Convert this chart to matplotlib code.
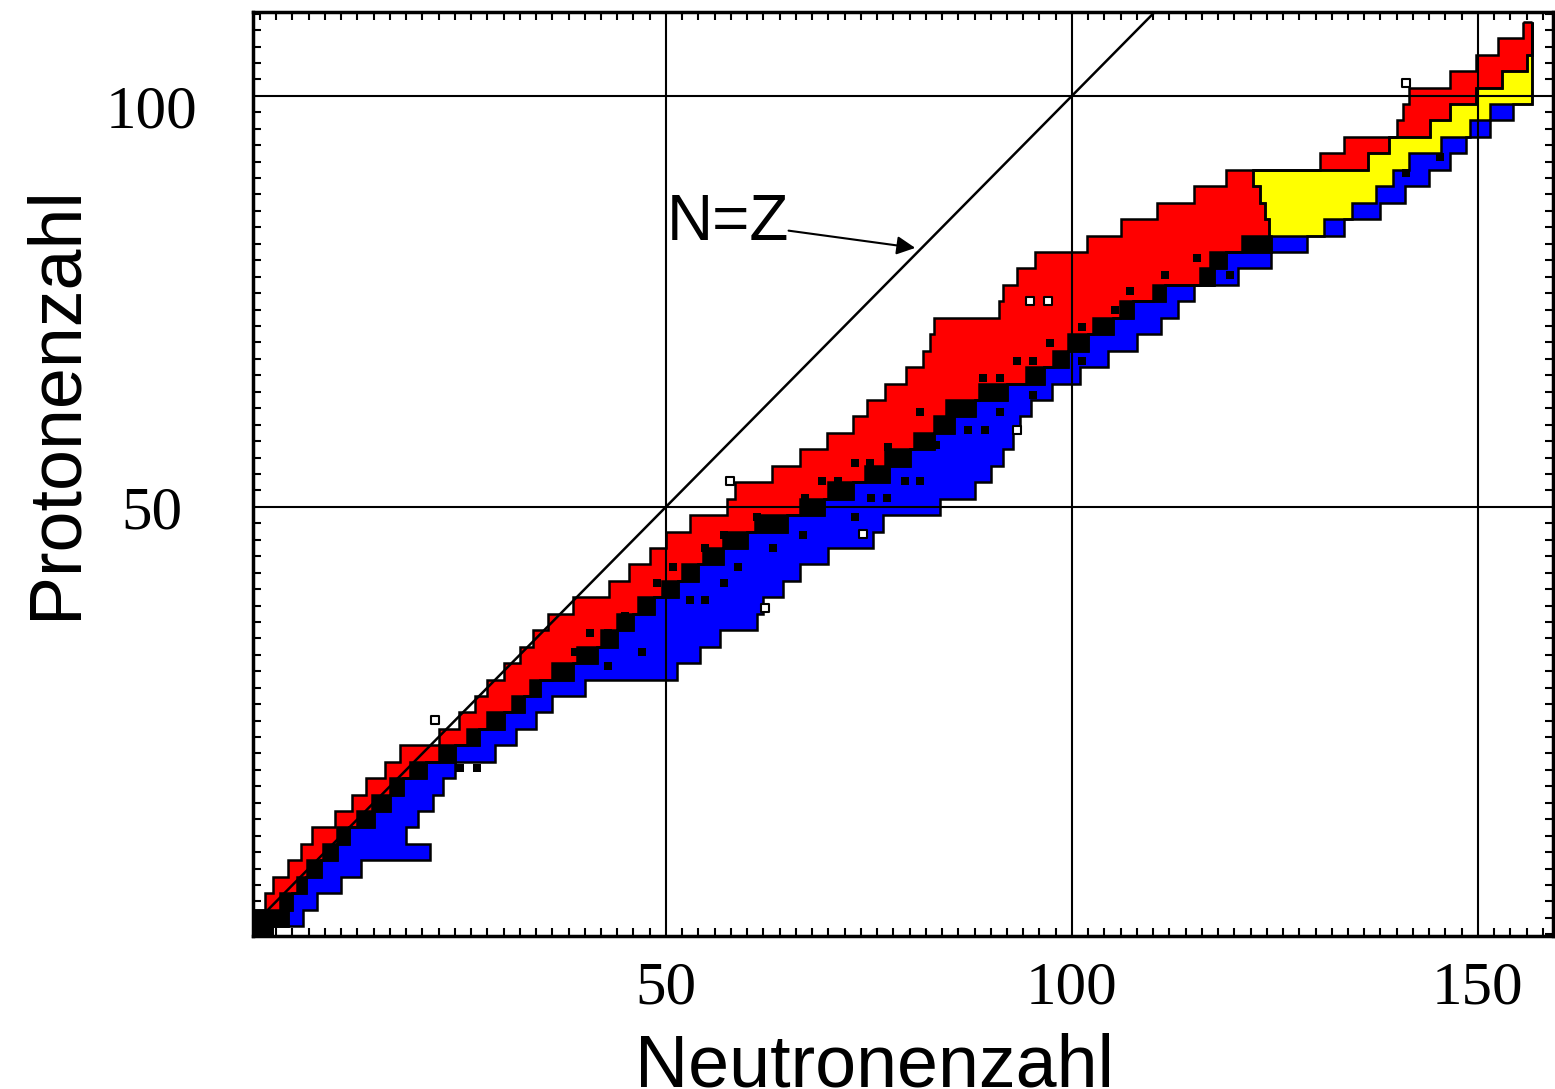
import numpy as np
import matplotlib.pyplot as plt
from matplotlib.ticker import FixedLocator, MultipleLocator
from matplotlib.transforms import ScaledTranslation

z_mid = [-2, 0, 2, 4, 6, 8, 10, 12, 14, 16, 18, 20, 22, 24, 26, 28, 30, 32, 34, 36,
         38, 40, 42, 44, 46, 48, 50, 52, 54, 56, 58, 60, 62, 64, 66, 68, 70, 72, 74, 76,
         78, 80, 82, 84, 86, 88, 90, 92, 94, 96, 98, 100, 102, 104, 106, 108]
# neutron number where each colour band starts / ends
n_red_lo = [-1, -1, 0.6, 1.6, 3.5, 5.0, 6.4, 9.2, 11.3, 13.1, 15.4, 17.2, 22.0, 24.5, 26.5, 28.0, 30.0, 32.0, 33.6, 35.5,
            38.6, 43.0, 45.5, 48.0, 50.0, 53.0, 57.5, 58.5, 63.0, 66.5, 69.8, 73.0, 74.7, 77.0, 79.6, 81.7, 82.5, 83.0, 91.0, 91.5,
            93.2, 95.5, 101.8, 106.0, 110.5, 115.0, 119.0, 130.5, 133.5, 140.0, 140.8, 141.5, 146.6, 149.8, 152.5, 155.5]
n_black_lo = [-1, -1, 2.5, 4.5, 5.8, 7.8, 9.5, 12.0, 13.8, 16.0, 18.5, 22.0, 25.5, 28.0, 31.0, 33.2, 36.0, 39.0, 42.0, 44.0,
              46.5, 49.5, 52.0, 54.5, 57.0, 61.0, 66.5, 70.0, 74.5, 77.0, 80.5, 83.0, 84.5, 88.5, 94.4, 97.7, 99.5, 102.6, 105.9, 110.0,
              115.8, 117.0, 121.0, 124.3, 123.8, 123.2, 122.3, 136.5, 139.0, 144.1, 146.5, 149.8, 153.0, 156.0, 156.6, 156.6]
n_black_hi = [1.5, 3.5, 4.0, 5.7, 7.5, 9.5, 11.0, 14.0, 16.0, 17.6, 20.5, 24.0, 27.0, 30.0, 32.5, 34.5, 38.5, 41.5, 44.0, 46.0,
              48.5, 51.5, 54.0, 57.0, 60.0, 64.9, 69.5, 73.0, 77.5, 80.0, 83.0, 85.5, 88.0, 92.0, 96.5, 99.5, 102.0, 105.0, 107.5, 111.5,
              117.5, 119.0, 124.5, 124.3, 123.8, 123.2, 122.3, 136.5, 139.0, 144.1, 146.5, 149.8, 153.0, 156.0, 156.6, 156.6]
n_yellow_hi = [1.5, 3.5, 4.0, 5.7, 7.5, 9.5, 11.0, 14.0, 16.0, 17.6, 20.5, 24.0, 27.0, 30.0, 32.5, 34.5, 38.5, 41.5, 44.0, 46.0,
               48.5, 51.5, 54.0, 57.0, 60.0, 64.9, 69.5, 73.0, 77.5, 80.0, 83.0, 85.5, 88.0, 92.0, 96.5, 99.5, 102.0, 105.0, 107.5, 111.5,
               117.5, 119.0, 124.5, 131.0, 134.5, 137.5, 139.5, 141.5, 145.5, 149.0, 151.5, 156.6, 156.6, 156.6, 156.6, 156.6]
n_blue_hi = [1.5, 5.3, 7.0, 10.0, 12.5, 21.0, 18.0, 19.5, 21.3, 22.5, 24.0, 29.0, 31.5, 34.0, 36.0, 40.0, 51.3, 54.2, 56.7, 61.2,
             62.0, 64.4, 66.5, 70.0, 75.5, 76.7, 83.7, 88.0, 90.0, 91.5, 92.8, 93.6, 95.0, 97.5, 101.0, 104.5, 108.0, 111.0, 113.0, 115.0,
             120.5, 124.5, 129.0, 133.5, 138.0, 141.0, 144.0, 146.6, 148.5, 151.5, 154.3, 156.6, 156.6, 156.6, 156.6, 156.6]

# small black squares inside the bands
dot_n = [24.6, 26.7, 42.9, 38.8, 47.0, 40.6, 42.9, 45.0, 53.0, 54.8, 48.9, 57.1, 50.9, 58.9, 54.8, 63.2,
         57.1, 66.9, 61.2, 73.3, 67.1, 75.3, 77.2, 69.2, 71.2, 73.3, 75.1, 77.4, 79.4, 81.3, 83.3, 87.2,
         89.3, 81.3, 91.1, 95.2, 89.1, 91.1, 93.2, 95.2, 101.2, 97.3, 101.2, 105.3, 107.1, 111.5, 119.5,
         115.4, 141.2, 145.3]
dot_z = [18.2, 18.2, 30.6, 32.4, 32.4, 34.6, 34.6, 36.7, 38.7, 38.7, 40.7, 40.7, 42.7, 42.7, 45.0, 45.0,
         46.6, 46.6, 48.8, 48.8, 51.1, 51.1, 51.1, 53.1, 53.1, 55.3, 55.3, 57.3, 53.1, 53.1, 57.5, 59.4,
         59.4, 61.6, 61.6, 63.6, 65.7, 65.7, 67.7, 67.7, 67.7, 69.9, 71.9, 74.0, 76.2, 78.2, 78.2,
         80.3, 90.6, 92.6]
# open (outlined) squares
open_n = [21.6, 57.9, 62.2, 74.3, 93.2, 94.8, 97.1, 141.2]
open_z = [24.1, 53.1, 37.7, 46.7, 59.4, 75.0, 75.0, 101.5]


def main():
    fig = plt.figure(figsize=(15.55, 10.89), dpi=100)
    ax = fig.add_axes([0.1627, 0.1405, 0.8363, 0.8485])

    z = np.array(z_mid, dtype=float)
    red_lo = np.array(n_red_lo)
    black_lo = np.array(n_black_lo)
    black_hi = np.array(n_black_hi)
    yellow_hi = np.array(n_yellow_hi)
    blue_hi = np.array(n_blue_hi)

    bands = [(red_lo, black_lo, '#ff0000'),
             (black_lo, black_hi, 'black'),
             (black_hi, yellow_hi, '#ffff00'),
             (yellow_hi, blue_hi, '#0000ff')]
    for a, b, c in bands:
        ax.barh(z, b - a, left=a, height=2, color=c, linewidth=0, zorder=1)

    # outlines of the bands
    edges = np.append(z - 1, z[-1] + 1)
    for arr in (red_lo, black_lo, black_hi, yellow_hi, blue_hi):
        ax.stairs(arr, edges, orientation='horizontal', baseline=None,
                  color='black', lw=1.8, zorder=1.5)
    ax.hlines(edges[-1], red_lo[-1], blue_hi[-1], color='black', lw=1.8, zorder=1.5)

    ax.scatter(dot_n, dot_z, marker='s', s=40, color='black', linewidths=0, zorder=1.6)
    ax.scatter(open_n, open_z, marker='s', s=40, facecolor='white', edgecolor='black',
               linewidths=1.5, zorder=1.6)

    # N = Z line
    ax.axline((0, 0), slope=1, color='black', lw=1.8, zorder=2)
    ax.text(50.1, 82.5, 'N=Z', fontsize=46, family='Liberation Sans', ha='left', va='baseline')
    ax.annotate('', xy=(80.7, 81.5), xytext=(65.1, 83.6),
                arrowprops=dict(arrowstyle='-|>', color='black', lw=1.5,
                                mutation_scale=28, shrinkA=0, shrinkB=0))

    ax.set_xlim(-0.86, 159.3)
    ax.set_ylim(-2.2, 110.2)

    ax.xaxis.set_major_locator(FixedLocator([50, 100, 150]))
    ax.yaxis.set_major_locator(FixedLocator([50, 100]))
    ax.xaxis.set_minor_locator(MultipleLocator(2))
    ax.yaxis.set_minor_locator(MultipleLocator(2))
    ax.grid(True, which='major', color='black', lw=1.5)
    ax.set_axisbelow(False)

    ax.tick_params(which='major', length=0, top=True, right=True)
    ax.tick_params(which='minor', direction='in', length=6, width=1.5,
                   top=True, right=True)
    ax.tick_params(axis='x', which='major', pad=18)
    ax.tick_params(axis='y', which='major', pad=73)
    for lab in ax.get_xticklabels() + ax.get_yticklabels():
        lab.set_family('Liberation Serif')
        lab.set_fontsize(44)
    ylabs = ax.get_yticklabels()
    for lab in ylabs:
        lab.set_ha('center')
    # the "100" sits a little below its grid line in the original
    ylabs[1].set_transform(ylabs[1].get_transform() +
                           ScaledTranslation(0, -10 / 100, fig.dpi_scale_trans))

    for s in ax.spines.values():
        s.set_linewidth(2.5)

    ax.set_xlabel('Neutronenzahl', fontsize=53, family='Liberation Sans')
    ax.set_ylabel('Protonenzahl', fontsize=53, family='Liberation Sans')
    ax.xaxis.set_label_coords(0.478, -0.104)
    ax.yaxis.set_label_coords(-0.125, 0.578)

    fig.savefig('out.png', dpi=100)


if __name__ == "__main__":
    main()
